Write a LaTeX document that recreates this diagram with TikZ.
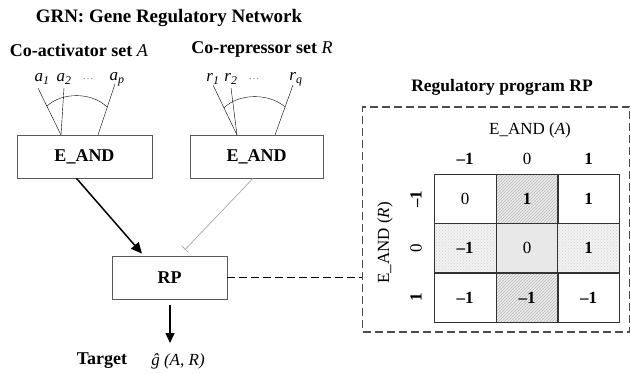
\documentclass[tikz,border=0pt]{standalone}
\usepackage{fontspec}
\setmainfont{Liberation Serif}
\usetikzlibrary{calc,patterns,arrows.meta}

\begin{document}
\begin{tikzpicture}[x=1pt,y=-1pt,
	head/.style={font=\bfseries\fontsize{18}{20}\selectfont},
	txt/.style={font=\fontsize{17}{19}\selectfont},
	box/.style={draw=gray!70!black,line width=0.8pt,font=\bfseries\fontsize{18}{20}\selectfont},
	cell/.style={draw=gray!40!black,line width=0.8pt,minimum width=62,minimum height=49,font=\fontsize{17}{19}\selectfont},
	hatch/.style={preaction={fill=gray!15},pattern=north east lines,pattern color=gray!55},
	dotty/.style={preaction={fill=gray!10},pattern=crosshatch dots,pattern color=gray!35},
	act/.style={line width=1.5pt,-{Triangle[length=11pt,width=10pt]}},
	inh/.style={gray!70,line width=0.7pt,-{Bar[width=9pt]}}]
	\useasboundingbox (0,0) rectangle (631,373);
	
	%TITRES
	\node[head,font=\bfseries\fontsize{19}{21}\selectfont] (title) at (169,18) {GRN: Gene Regulatory Network};
	\node[head] (actset) at (79,50) {Co-activator set \textit{\mdseries A}};
	\node[head] (repset) at (262,49) {Co-repressor set \textit{\mdseries R}};
	
	%ACTIVATEURS
	\node[txt] (a1) at (42,79) {\textit{a}\textsubscript{\textit{1}}};
	\node[txt] (a2) at (64,79) {\textit{a}\textsubscript{\textit{2}}};
	\node[txt,text=gray] (adots) at (88,79) {\fontsize{11}{12}\selectfont\dots};
	\node[txt] (ap) at (117,79) {\textit{a}\textsubscript{\textit{p}}};
	\node[box,minimum width=135,minimum height=43] (eandA) at (84.5,156.5) {E\_AND};
	\coordinate (inA1) at (61,135);
	\coordinate (inA3) at (98,135);
	\draw (38,88) -- (inA1);
	\draw (a2.south) -- (inA1);
	\draw (115,84) -- (inA3);
	\draw (47,106) .. controls (62,92) and (92,92) .. (107,107);
	
	%REPRESSEURS
	\node[txt] (r1) at (213,79) {\textit{r}\textsubscript{\textit{1}}};
	\node[txt] (r2) at (231,79) {\textit{r}\textsubscript{\textit{2}}};
	\node[txt,text=gray] (rdots) at (254,79) {\fontsize{11}{12}\selectfont\dots};
	\node[txt] (rq) at (296,79) {\textit{r}\textsubscript{\textit{q}}};
	\node[box,minimum width=133,minimum height=43] (eandR) at (256.5,156.5) {E\_AND};
	\coordinate (inR1) at (237,135);
	\coordinate (inR3) at (275,135);
	\draw (213,85) -- (inR1);
	\draw (r2.south) -- (inR1);
	\draw (293,85) -- (inR3);
	\draw (224,108) .. controls (238,93) and (270,93) .. (285,107);
	
	%PROGRAMME RP
	\node[box,minimum width=115,minimum height=43] (rp) at (169.5,277.5) {RP};
	\draw[act] ($(eandA.south)+(-8,0)$) -- ($(rp.north)+(-27.5,-2)$);
	\draw[inh] ($(eandR.south)+(-3.5,0)$) -- ($(rp.north)+(15.5,-6)$);
	\coordinate (out) at (170,343);
	\draw[act,line width=1.2pt,-{Triangle[length=10pt,width=9pt]}] ($(rp.south)+(0.5,6)$) -- (out);
	\node[head] (target) at (102,361) {Target};
	\node[txt,font=\itshape\fontsize{17}{19}\selectfont] (gAR) at (178,361) {\^{g} (A, R)};
	
	%TABLE
	\node[head,font=\bfseries\fontsize{17.5}{20}\selectfont] (rptitle) at (502,87) {Regulatory program RP};
	\node[draw=gray!60!black,line width=1.3pt,dash pattern=on 8pt off 4pt,minimum width=267,minimum height=225] (rpbox) at (496,219.5) {};
	\draw[line width=1.3pt,dash pattern=on 8pt off 4pt] (rp.east) -- (rp.east -| rpbox.west);
	\node[txt] (colhead) at (530,130) {E\_AND (\textit{A})};
	\node[txt,rotate=90] (rowhead) at (385,243) {E\_AND (\textit{R})};
	\node[txt,font=\bfseries\fontsize{17}{19}\selectfont] (cm) at (465,159) {--1};
	\node[txt] (c0) at (527,159) {0};
	\node[txt,font=\bfseries\fontsize{17}{19}\selectfont] (cp) at (588.5,159) {1};
	\node[txt,rotate=90,font=\bfseries\fontsize{17}{19}\selectfont] (rm) at (416,199) {--1};
	\node[txt,rotate=90] (r0) at (416,248) {0};
	\node[txt,rotate=90,font=\bfseries\fontsize{17}{19}\selectfont] (rpl) at (416,297.5) {1};
	
	\node[cell] (c11) at (465,199) {0};
	\node[cell,hatch] (c12) at (527,199) {\bfseries 1};
	\node[cell] (c13) at (588.5,199) {\bfseries 1};
	\node[cell,dotty] (c21) at (465,248) {\bfseries --1};
	\node[cell,fill=gray!18] (c22) at (527,248) {0};
	\node[cell,dotty] (c23) at (588.5,248) {\bfseries 1};
	\node[cell] (c31) at (465,297.5) {\bfseries --1};
	\node[cell,hatch] (c32) at (527,297.5) {\bfseries --1};
	\node[cell] (c33) at (588.5,297.5) {\bfseries --1};
	
\end{tikzpicture}
\end{document}
